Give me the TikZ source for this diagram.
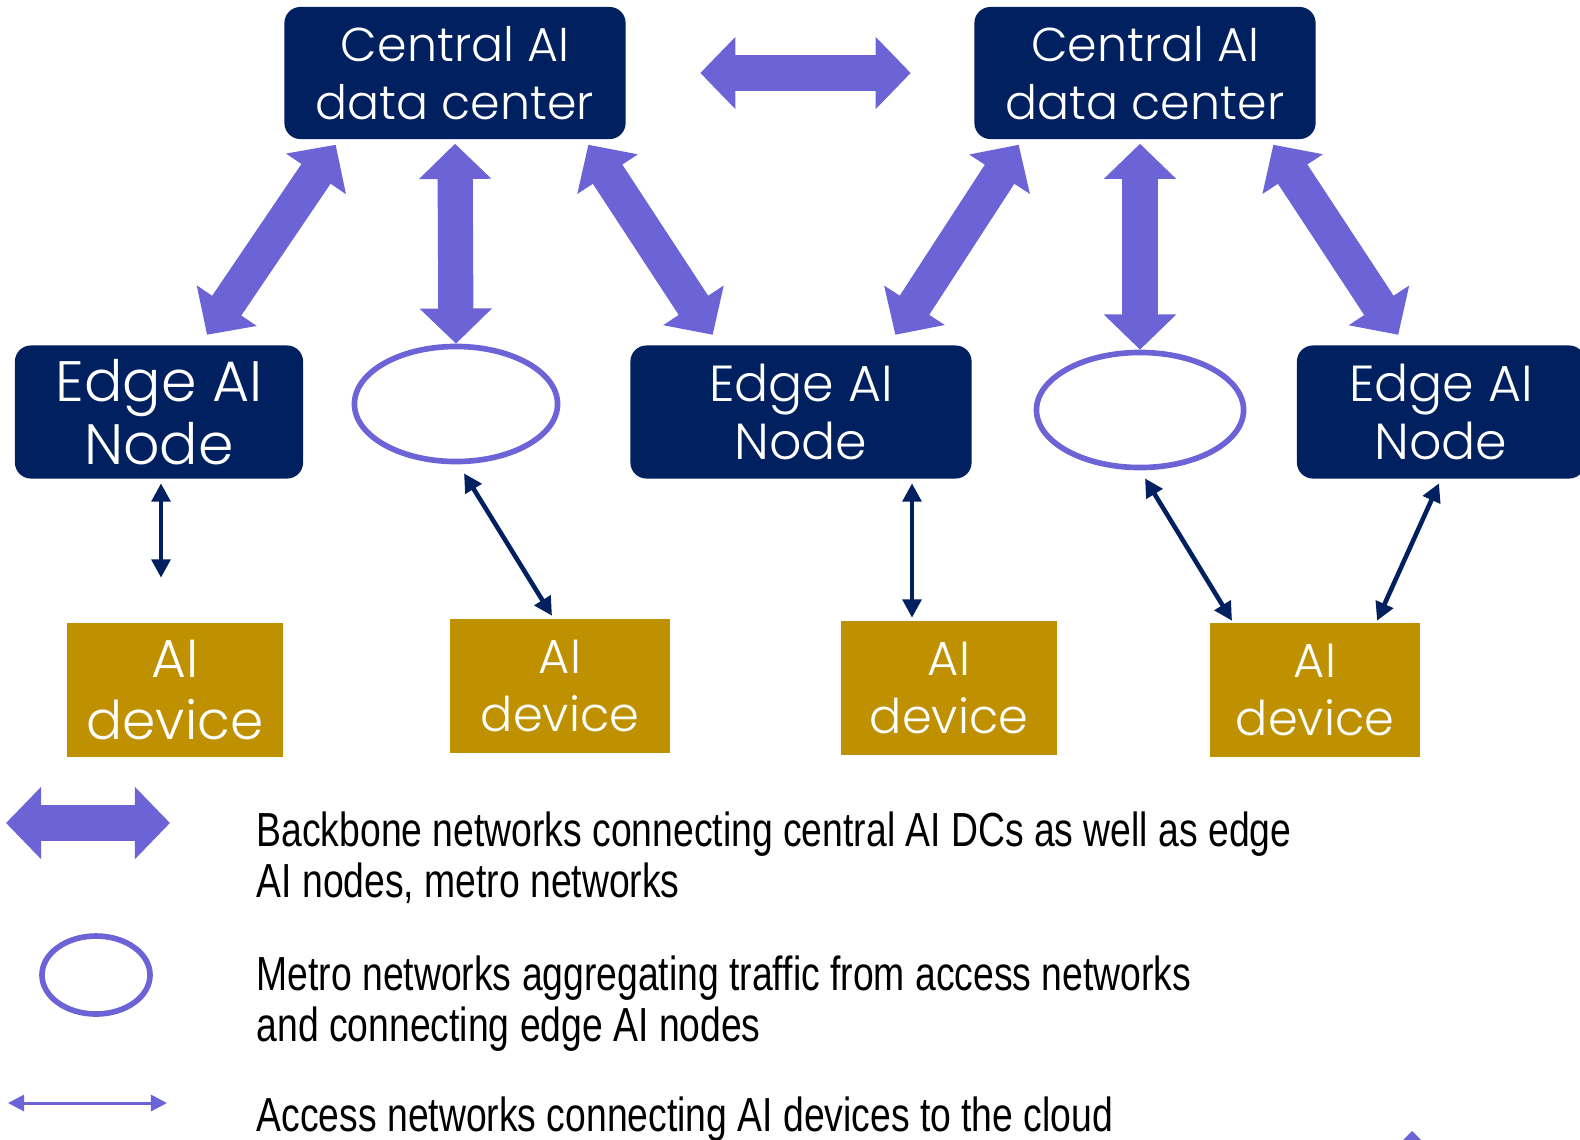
\documentclass[tikz,border=0pt]{standalone}
\usepackage{fontspec}
\setmainfont{Liberation Sans}
\newfontfamily\BoxFont{Poppins}[UprightFont={* Light}]
\newfontfamily\KeyFont{Liberation Sans}[FakeStretch=0.78]
\usetikzlibrary{arrows.meta,calc,shapes.geometric}
\definecolor{Navy}{RGB}{0,32,96}
\definecolor{Gold}{RGB}{191,144,0}
\definecolor{Lav}{RGB}{108,99,214}
\tikzset{
  CentralStyle/.style = {rectangle, rounded corners=0.16cm, fill=Navy, text=white,
                         align=center, minimum width=3.41cm, minimum height=1.32cm,
                         font=\BoxFont\fontsize{13.5pt}{16.5pt}\selectfont},
  EdgeNodeStyle/.style = {CentralStyle, minimum height=1.33cm,
                          font=\BoxFont\fontsize{14.4pt}{16.3pt}\selectfont},
  DeviceStyle/.style = {rectangle, fill=Gold, text=white, align=center,
                        minimum width=2.15cm, minimum height=1.33cm,
                        font=\BoxFont\fontsize{13.6pt}{16.3pt}\selectfont},
  MetroStyle/.style = {ellipse, draw=Lav, line width=1.6pt, fill=white,
                       minimum width=2.03cm, minimum height=1.15cm},
  BackboneStyle/.style = {draw=Lav, line width=10pt,
                          {Triangle[width=20pt,length=10pt]}-{Triangle[width=20pt,length=10pt]}},
  AccessStyle/.style = {draw=Navy, line width=1.3pt,
                        {Triangle[width=5.2pt,length=5.2pt]}-{Triangle[width=5.2pt,length=5.2pt]}},
  KeyArrowStyle/.style = {draw=Lav, line width=0.85pt,
                          {Triangle[width=4.6pt,length=4.6pt]}-{Triangle[width=4.6pt,length=4.6pt]}},
  KeyStyle/.style = {anchor=base west, align=left, inner sep=0pt,
                     font=\KeyFont\fontsize{13.6pt}{14.5pt}\selectfont}
}

\begin{document}
\begin{tikzpicture}[x=0.01cm, y=-0.01cm]
  \useasboundingbox (0,0) rectangle (1580,1139);
  \node[CentralStyle] (dcA) at (455,73) {Central AI\\data center};
  \node[CentralStyle] (dcB) at (1145,73) {Central AI\\data center};
  \node[EdgeNodeStyle, minimum width=2.88cm,
        font=\BoxFont\fontsize{16.2pt}{17.8pt}\selectfont] (edgeA) at (159,412) {Edge AI\\Node};
  \node[EdgeNodeStyle] (edgeB) at (801,412) {Edge AI\\Node};
  \node[EdgeNodeStyle, minimum width=2.88cm] (edgeC) at (1441,412) {Edge AI\\Node};
  \node[MetroStyle] (metroA) at (456,404) {};
  \node[MetroStyle, minimum width=2.07cm] (metroB) at (1140,410) {};
  \node[DeviceStyle, font=\BoxFont\fontsize{15.2pt}{17.5pt}\selectfont] (devA) at (175,690) {AI\\device};
  \node[DeviceStyle, minimum width=2.19cm] (devB) at (560,686) {AI\\device};
  \node[DeviceStyle] (devC) at (949,688) {AI\\device};
  \node[DeviceStyle, minimum width=2.1cm] (devD) at (1315,690) {AI\\device};

  \draw[BackboneStyle] ($(dcA.east)+(74,0)$) -- ($(dcB.west)+(-63,0)$);
  \draw[BackboneStyle] ($(dcA.south west)+(52,5)$) -- ($(edgeA.north)+(48,-10)$);
  \draw[BackboneStyle] ($(dcA.south)+(0,4)$) -- (metroA.north);
  \draw[BackboneStyle] ($(dcA.south east)+(-38,5)$) -- ($(edgeB.north west)+(83,-10)$);
  \draw[BackboneStyle] ($(dcB.south west)+(45,5)$) -- ($(edgeB.north east)+(-77,-10)$);
  \draw[BackboneStyle] ($(metroB.north |- dcB.south)+(0,4)$) -- (metroB.north);
  \draw[BackboneStyle] ($(dcB.south east)+(-43,5)$) -- ($(edgeC.north west)+(102,-10)$);

  \draw[AccessStyle] ($(edgeA.south)+(2,4)$) -- ($(devA.north)+(-14,-45)$);
  \draw[AccessStyle] ($(metroA.south)+(8,9)$) -- ($(devB.north)+(-8,-3)$);
  \draw[AccessStyle] ($(edgeB.south)+(111,4)$) -- ($(devC.north)+(-37,-3)$);
  \draw[AccessStyle] ($(metroB.south)+(5,8)$) -- ($(devD.north)+(-83,-2)$);
  \draw[AccessStyle] ($(edgeC.south)+(-2,4)$) -- ($(devD.north)+(62,-2)$);

  \coordinate (keyBbL) at (6,823);
  \coordinate (keyBbR) at (170,823);
  \draw[BackboneStyle] (keyBbL) -- (keyBbR);
  \node[MetroStyle, minimum width=1.08cm, minimum height=0.78cm] (keyMetro) at (96,975) {};
  \coordinate (keyAcL) at (8,1103);
  \coordinate (keyAcR) at (167,1103);
  \draw[KeyArrowStyle] (keyAcL) -- (keyAcR);
  \node[KeyStyle] (keyBbText) at (256,897) {Backbone networks connecting central AI DCs as well as edge\\AI nodes, metro networks};
  \node[KeyStyle] (keyMetroText) at (256,1041) {Metro networks aggregating traffic from access networks\\and connecting edge AI nodes};
  \node[KeyStyle] (keyAcText) at (256,1131) {Access networks connecting AI devices to the cloud};
  \fill[Lav] (1412,1131) -- (1421,1140) -- (1403,1140) -- cycle;
\end{tikzpicture}
\end{document}
